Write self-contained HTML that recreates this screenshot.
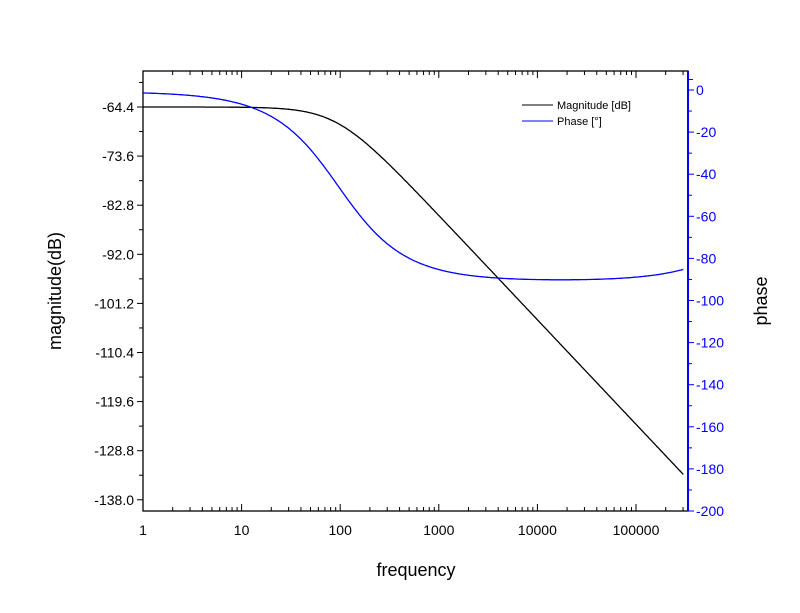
<!DOCTYPE html>
<html><head><meta charset="utf-8"><style>body{margin:0;background:#fff}svg{display:block}</style></head>
<body>
<svg id="s" width="800" height="613" xmlns="http://www.w3.org/2000/svg" font-family="Liberation Sans, sans-serif"></svg>
<script>
const s=document.getElementById('s');let h='';
const L=143,R=688,T=71,B=511;
const X=f=>L+Math.log10(f)*98.6;
const YM=m=>107+(-64.4-m)/9.2*49.1;
const YP=p=>90-p*2.105;
h+=`<rect x="${L}" y="${T}" width="${R-L}" height="${B-T}" fill="none" stroke="#000" stroke-width="1.3"/>`;
for(let i=-1;i<=16;i++){const v=-64.4-i*4.6;const y=YM(v);if(y<T||y>B)continue;const maj=i%2==0&&i>=0;
h+=`<line x1="${L}" x2="${L-(maj?6:4)}" y1="${y}" y2="${y}" stroke="#000"/>`;
if(maj)h+=`<text x="${L-9}" y="${y+5}" font-size="14" text-anchor="end">${v.toFixed(1)}</text>`;}
h+=`<line x1="${R}" x2="${R}" y1="${T}" y2="${B}" stroke="#00f" stroke-width="2"/>`;
for(let v=0;v>=-200;v-=10){const y=YP(v);const maj=v%20==0;
h+=`<line x1="${R}" x2="${R+(maj?6:4)}" y1="${y}" y2="${y}" stroke="#00f"/>`;
if(maj)h+=`<text x="${R+8}" y="${y+5}" font-size="14" fill="#00f">${v}</text>`;}
h+=`<line x1="${R}" x2="${R+5}" y1="${YP(5)}" y2="${YP(5)}" stroke="#00f"/>`;
for(let d=0;d<=5;d++){for(let k=1;k<10;k++){const f=k*Math.pow(10,d);const x=X(f);if(x>R)break;const len=k==1?7:4;
h+=`<line x1="${x}" x2="${x}" y1="${B}" y2="${B-len}" stroke="#000"/><line x1="${x}" x2="${x}" y1="${T}" y2="${T+len}" stroke="#000"/>`;
if(k==1)h+=`<text x="${x}" y="${B+24}" font-size="14" text-anchor="middle">${f}</text>`;}}
let pm='',pp='';const D=180/Math.PI;
for(let i=0;i<=500;i++){const f=Math.pow(10,i/500*5.48);const x=X(f).toFixed(1);
const ym=107+52.25*Math.log10(1+(f/92)**2);
const p=-Math.atan(f/96)*D+Math.atan(f/3.1e6)*D-0.8;
pm+=`${x},${ym.toFixed(1)} `;pp+=`${x},${YP(p).toFixed(1)} `;}
h+=`<polyline points="${pm}" fill="none" stroke="#000" stroke-width="1.3"/>`;
h+=`<polyline points="${pp}" fill="none" stroke="#00f" stroke-width="1.3"/>`;
h+=`<line x1="522" x2="553" y1="105" y2="105" stroke="#000"/><text x="557" y="109" font-size="11">Magnitude [dB]</text>`;
h+=`<line x1="522" x2="553" y1="121" y2="121" stroke="#00f"/><text x="557" y="125" font-size="11">Phase [°]</text>`;
h+=`<text x="416" y="576" font-size="18" text-anchor="middle">frequency</text>`;
h+=`<text transform="translate(61,291) rotate(-90)" font-size="18" text-anchor="middle">magnitude(dB)</text>`;
h+=`<text transform="translate(767,301) rotate(-90)" font-size="18" text-anchor="middle">phase</text>`;
s.innerHTML=h;
</script>
</body></html>
